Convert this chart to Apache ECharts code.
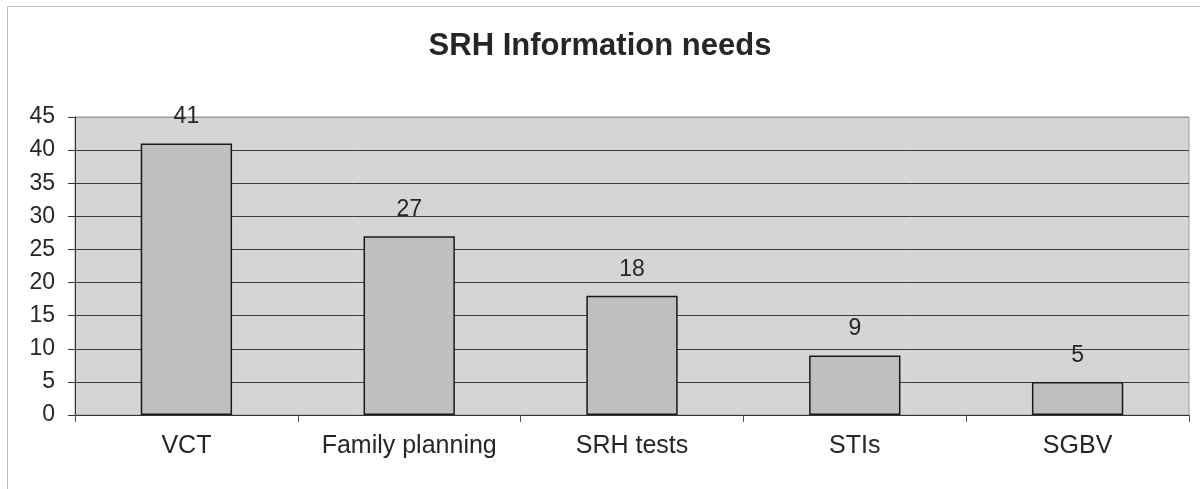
<!DOCTYPE html>
<html>
<head>
<meta charset="utf-8">
<script src="https://cdn.jsdelivr.net/npm/echarts@6/dist/echarts.min.js"></script>
<style>
  html, body { margin: 0; padding: 0; background: #fff; }
  #main { width: 1200px; height: 489px; }
</style>
</head>
<body>
<div id="main"></div>
<script>
var categories = ['VCT', 'Family planning', 'SRH tests', 'STIs', 'SGBV'];
var counts = [41, 27, 18, 9, 5];
var chartTitle = 'SRH Information needs';

var chart = echarts.init(document.getElementById('main'));

// gridlines dark, the top (45) line is the lighter plot border
var splitColors = ['#3a3a3a', '#3a3a3a', '#3a3a3a', '#3a3a3a', '#3a3a3a', '#3a3a3a', '#3a3a3a', '#3a3a3a', '#3a3a3a', '#9a9a9a'];

var option = {
    animation: false,
    textStyle: { fontFamily: 'Liberation Sans, Arial, sans-serif' },
    title: {
        text: chartTitle,
        left: 'center',
        top: 26,
        textStyle: { fontSize: 31, fontWeight: 'bold', color: '#262626' }
    },
    graphic: [{
        type: 'rect',
        shape: { x: 7.5, y: 6.5, width: 1200, height: 490 },
        style: { fill: 'none', stroke: '#bdbdbd', lineWidth: 1 },
        silent: true
    }],
    grid: {
        left: 75,
        right: 11,
        top: 117,
        bottom: 74,
        show: true,
        backgroundColor: '#d5d5d5',
        borderColor: '#9a9a9a',
        borderWidth: 1
    },
    xAxis: {
        type: 'category',
        data: categories,
        axisLine: { lineStyle: { color: '#333', width: 1 } },
        axisTick: { show: true, interval: 0, length: 7, alignWithLabel: false, lineStyle: { color: '#555' } },
        axisLabel: { interval: 0, hideOverlap: false, fontSize: 25, color: '#262626', margin: 19 }
    },
    yAxis: {
        type: 'value',
        min: 0,
        max: 45,
        interval: 5,
        axisLine: { show: true, lineStyle: { color: '#333', width: 1 } },
        axisTick: { show: true, length: 7, lineStyle: { color: '#333' } },
        axisLabel: { fontSize: 23, color: '#262626', margin: 20 },
        splitLine: { show: true, lineStyle: { color: splitColors, width: 1 } }
    },
    series: [{
        type: 'bar',
        data: counts,
        barWidth: '41%',
        itemStyle: { color: '#bfbfbf', borderColor: '#1a1a1a', borderWidth: 1.5 },
        label: {
            show: true,
            position: 'top',
            distance: 15,
            fontSize: 23,
            color: '#262626'
        }
    }]
};

chart.setOption(option);
</script>
</body>
</html>
